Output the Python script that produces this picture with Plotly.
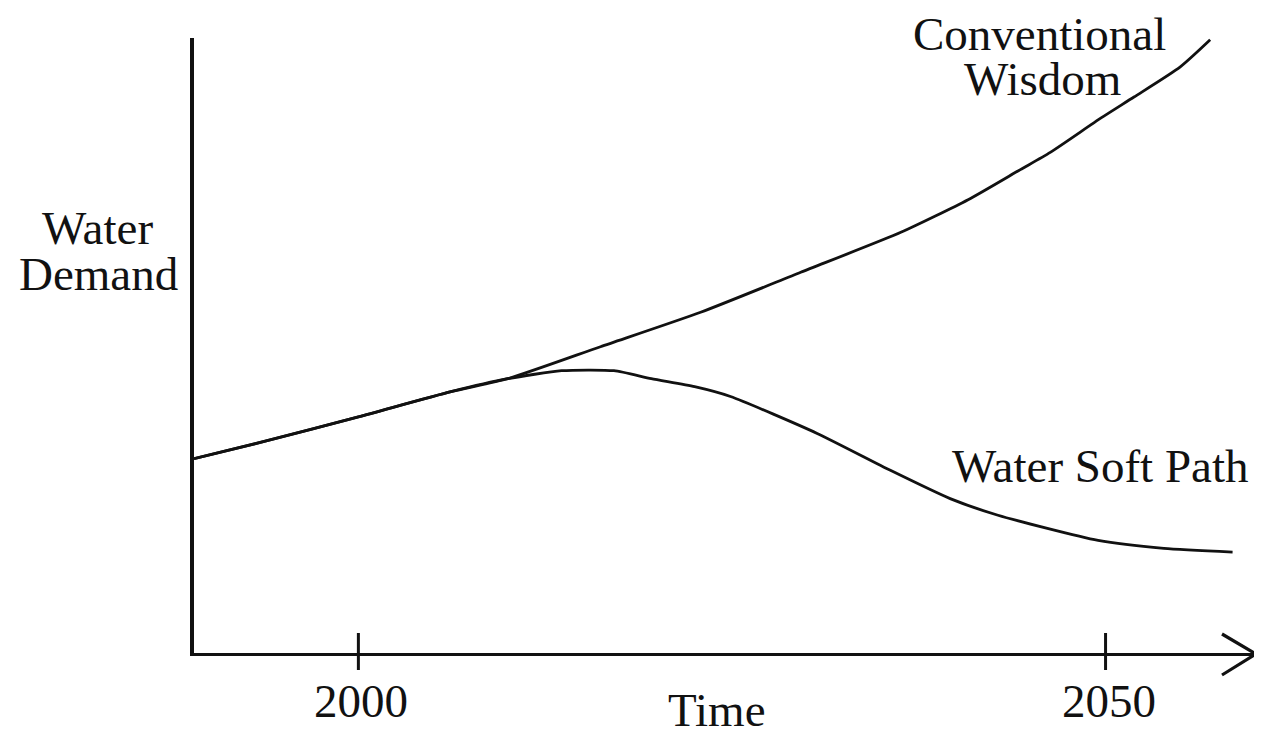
import plotly.graph_objects as go

# ---- data (arbitrary demand units 0-100) ----
conv_years = [1989.0, 1993.7, 2000.0, 2006.2, 2010.0, 2016.2, 2022.9, 2029.6,
              2036.3, 2040.8, 2044.3, 2046.3, 2049.7, 2051.9, 2055.0, 2057.0]
conv_demand = [31.6, 34.4, 38.4, 42.5, 44.6, 49.8, 55.4, 61.9,
               68.4, 73.7, 78.6, 81.4, 87.0, 90.4, 95.3, 99.7]

soft_years = [1989.0, 1993.7, 2000.0, 2006.2, 2010.0, 2013.6, 2017.1, 2019.6,
              2022.5, 2024.9, 2030.7, 2035.6, 2039.6, 2042.8, 2049.5, 2053.9, 2058.5]
soft_demand = [31.6, 34.4, 38.4, 42.5, 44.6, 45.9, 45.9, 44.6,
               43.3, 41.7, 35.7, 29.7, 25.1, 22.4, 18.3, 17.0, 16.4]

tick_years = [2000, 2050]
tick_labels = ["2000", "2050"]

x_range = [1989.0, 2060.0]
y_range = [0, 100]

FONT = "Liberation Serif"
FS = 47
INK = "#111111"

# layout geometry (pixels); page body has an 8px margin
PAGE_OFF = 8
W, H = 1262 - PAGE_OFF, 738 - PAGE_OFF
AX_X, AX_Y = 194, 653  # page-pixel position of the plot-area corner
ML, MR, MT, MB = AX_X - PAGE_OFF, 7, 38 - PAGE_OFF, 738 - AX_Y
PW = W - ML - MR
PH = H - MT - MB


def px(xp):
    return (xp - AX_X) / PW


def py(yp):
    return (AX_Y - yp) / PH


fig = go.Figure()
fig.add_trace(go.Scatter(x=conv_years, y=conv_demand, mode="lines",
                         line=dict(color=INK, width=2.8, shape="spline", smoothing=0.6),
                         hoverinfo="skip", showlegend=False, cliponaxis=False))
fig.add_trace(go.Scatter(x=soft_years, y=soft_demand, mode="lines",
                         line=dict(color=INK, width=2.8, shape="spline", smoothing=0.6),
                         hoverinfo="skip", showlegend=False, cliponaxis=False))

shapes = []
# tick marks crossing the x axis
for t in tick_years:
    shapes.append(dict(type="line", xref="x", yref="paper", x0=t, x1=t,
                       y0=py(633), y1=py(670), line=dict(color=INK, width=3)))
# open chevron arrowhead at the end of the x axis
shapes.append(dict(type="path", xref="paper", yref="paper",
                   path=f"M {px(1222)} {py(634)} L {px(1256)} {py(654)} L {px(1222)} {py(675)}",
                   line=dict(color=INK, width=3.2)))

ann = []


def label(text, x, y, xref="paper", yref="paper", xanchor="center", xshift=0):
    ann.append(dict(text=text, x=x, y=y, xref=xref, yref=yref, showarrow=False,
                    xanchor=xanchor, yanchor="middle", xshift=xshift, yshift=2,
                    font=dict(family=FONT, size=FS, color=INK)))


for t, s in zip(tick_years, tick_labels):
    label(s, t, py(703), xref="x", xshift=3)
label("Time", px(717), py(712))
label("Water", px(97), py(230))
label("Demand", px(98), py(276))
label("Conventional", px(1039), py(36))
label("Wisdom", px(1042), py(81))
label("Water Soft Path", px(950), py(468), xanchor="left")

fig.update_layout(
    width=W, height=H,
    margin=dict(l=ML, r=MR, t=MT, b=MB),
    paper_bgcolor="white", plot_bgcolor="white",
    xaxis=dict(range=x_range, showgrid=False, zeroline=False, showticklabels=False,
               ticks="", showline=True, linecolor=INK, linewidth=3.2, fixedrange=True),
    yaxis=dict(range=y_range, showgrid=False, zeroline=False, showticklabels=False,
               ticks="", showline=True, linecolor=INK, linewidth=3.5, fixedrange=True),
    shapes=shapes, annotations=ann, showlegend=False,
)

fig.write_html("out.html", config={"displayModeBar": False})
